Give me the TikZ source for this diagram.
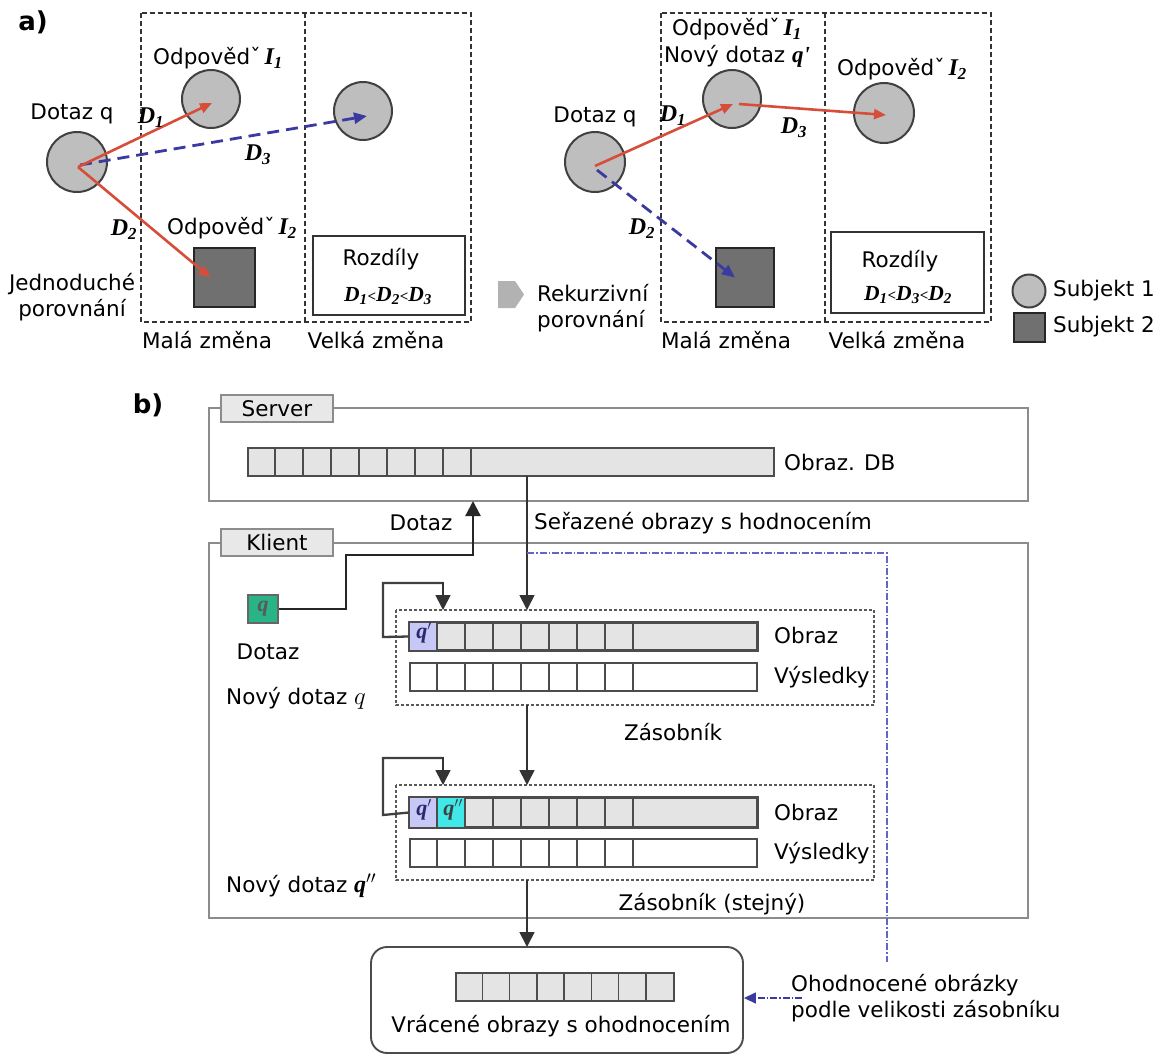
\documentclass[tikz,border=0pt]{standalone}
\usepackage{fontspec}
\setmainfont{DejaVu Sans}
\newfontfamily\tms{Liberation Serif}
\usetikzlibrary{arrows.meta,calc}

% bold italic serif for symbols
\newcommand\bi[1]{{\tms\bfseries\itshape #1}}
\newcommand\bigI[1]{{\tms\bfseries\itshape\fontsize{24}{24}\selectfont I\textsubscript{#1}}}
\newcommand\Dn[1]{\bi{D\textsubscript{#1}}}
\newcommand\lt{{\tms\bfseries\fontsize{15}{15}\selectfont<}}

\definecolor{subjA}{RGB}{190,190,190}
\definecolor{subjB}{RGB}{112,112,112}
\definecolor{redln}{RGB}{214,78,58}
\definecolor{blueln}{RGB}{58,58,160}
\definecolor{bluedd}{RGB}{100,100,205}
\definecolor{barfill}{RGB}{228,228,228}
\definecolor{qgreen}{RGB}{40,180,135}
\definecolor{qlav}{RGB}{200,200,246}
\definecolor{qcyan}{RGB}{64,232,232}

\tikzset{
  subjone/.style={circle, draw=black!75, fill=subjA, line width=2, minimum size=60, inner sep=0},
  subjtwo/.style={rectangle, draw=black!85, fill=subjB, line width=2, inner sep=0},
  zone/.style={draw=black!80, line width=2.2, dash pattern=on 5 off 3},
  redarr/.style={draw=redln, line width=2.6, -{Triangle[length=12,width=10]}},
  bluearr/.style={draw=blueln, line width=2.8, dash pattern=on 12 off 7, -{Triangle[length=13,width=11]}},
  dlab/.style={font=\fontsize{24}{26}\selectfont\tms\bfseries\itshape, inner sep=1},
  txt/.style={inner sep=0, align=center},
  frame/.style={draw=black!45, line width=1.7},
  tab/.style={draw=black!45, fill=black!9, line width=1.7, minimum width=112, minimum height=27, inner sep=0},
  bar/.style={draw=black!70, fill=barfill, line width=2, inner sep=0, minimum height=28},
  resbar/.style={draw=black!70, fill=white, line width=2, inner sep=0, minimum height=28},
  cellln/.style={draw=black!70, line width=1.5},
  stack/.style={draw=black!65, line width=2.1, dash pattern=on 3 off 2},
  flow/.style={draw=black!80, line width=1.7, -{Triangle[length=15,width=15]}},
  loopln/.style={draw=black!75, line width=2.3},
  dashdot/.style={draw=bluedd, line width=1.6, dash pattern=on 7 off 2 on 1.5 off 2},
}

\begin{document}
\begin{tikzpicture}[x=1pt, y=-1pt, font=\fontsize{21.5}{26}\selectfont]
\useasboundingbox (0,0) rectangle (1165,1055);
\fill[white] (0,0) rectangle (1165,1055);

% ===================== a) =====================
\node[txt, font=\fontsize{26}{26}\selectfont\bfseries] (alab) at (33,22) {a)};

% --- simple comparison ---
\draw[zone] (141,13) rectangle (471,322);
\draw[zone] (305,13) -- (305,322);

\node[subjone] (qa) at (77,162) {};
\node[subjone, minimum size=58] (ia) at (211,99) {};
\node[subjone, minimum size=58] (ja) at (363,111) {};
\node[subjtwo, minimum width=61, minimum height=59] (sa) at (224.5,277.5) {};
\node[draw=black!80, line width=2, minimum width=152, minimum height=79, inner sep=0] (ra) at (388.5,275.5) {};

\draw[bluearr] ([shift={(3,3)}]qa.center) -- ([shift={(4,5)}]ja.center);
\draw[redarr] ([shift={(1,5)}]qa.center) -- ([shift={(1,4)}]ia.center);
\draw[redarr] ([shift={(1,5)}]qa.center) -- ([shift={(-14,0)}]sa.center);

\node[dlab] (d1a) at (151,118) {D\textsubscript{1}};
\node[dlab] (d3a) at (258,155) {D\textsubscript{3}};
\node[dlab] (d2a) at (124,230) {D\textsubscript{2}};

\node[txt] (tqa) at (72,114) {Dotaz q};
\node[txt] (tia) at (218,58) {Odpovědˇ\,\bigI{1}};
\node[txt] (tsa) at (232,228) {Odpovědˇ\,\bigI{2}};
\node[txt] (tra) at (381,259) {Rozdíly};
\node[txt] (dra) at (388,296) {\Dn{1}\lt\Dn{2}\lt\Dn{3}};
\node[txt] (tja) at (72,297) {Jednoduché\\porovnání};
\node[txt] (tma) at (207,340) {Malá změna};
\node[txt] (tva) at (376,340) {Velká změna};

% --- recursive comparison ---
\fill[black!30] (498,281) -- (515,281) -- (524,294.5) -- (515,308) -- (498,308) -- cycle;
\node[txt, anchor=west, align=left] (tkb) at (537,308) {Rekurzivní\\porovnání};

\draw[zone] (661,13) rectangle (991,322);
\draw[zone] (825,13) -- (825,322);

\node[subjone] (qb) at (595,162) {};
\node[subjone, minimum size=58] (ib) at (732,99) {};
\node[subjone, minimum size=60] (jb) at (884,113) {};
\node[subjtwo, minimum width=58, minimum height=59] (sb) at (745,277.5) {};
\node[draw=black!80, line width=2, minimum width=153, minimum height=81, inner sep=0] (rb) at (907.5,272.5) {};

\draw[redarr] ([shift={(0,4)}]qb.center) -- ([shift={(1,5)}]ib.center);
\draw[redarr] ([shift={(7,5)}]ib.center) -- ([shift={(2,2)}]jb.center);
\draw[bluearr] ([shift={(2,8)}]qb.center) -- ([shift={(-10,0)}]sb.center);

\node[dlab] (d1b) at (673,116) {D\textsubscript{1}};
\node[dlab] (d3b) at (794,128) {D\textsubscript{3}};
\node[dlab] (d2b) at (642,229) {D\textsubscript{2}};

\node[txt] (tqb) at (595,117) {Dotaz q};
\node[txt] (tib) at (737,29) {Odpovědˇ\,\bigI{1}};
\node[txt] (tnb) at (737,56) {Nový dotaz \bi{\fontsize{23}{23}\selectfont q'}};
\node[txt] (tjb) at (902,69) {Odpovědˇ\,\bigI{2}};
\node[txt] (trb) at (900,261) {Rozdíly};
\node[txt] (drb) at (908,295) {\Dn{1}\lt\Dn{3}\lt\Dn{2}};
\node[txt] (tmb) at (726,340) {Malá změna};
\node[txt] (tvb) at (897,340) {Velká změna};

% --- legend ---
\node[subjone, minimum size=33] (lga) at (1029,291) {};
\node[subjtwo, minimum width=31, minimum height=29] (lgb) at (1029,327.5) {};
\node[txt, anchor=west] (lta) at (1053,291) {Subjekt 1};
\node[txt, anchor=west] (ltb) at (1053,327) {Subjekt 2};

% ===================== b) =====================
\node[txt, font=\fontsize{26}{26}\selectfont\bfseries] (blab) at (148,405) {b)};

% server and client frames
\draw[frame] (209,408) rectangle (1028,501);
\node[tab] (srv) at (277,408.5) {Server};
\draw[frame] (209,543) rectangle (1028,918);
\node[tab] (cli) at (277,542.5) {Klient};

% image database
\node[bar, minimum width=526] (db) at (511,462) {};
\foreach \k in {1,...,8}
  \draw[cellln] ($(db.north west)+(28*\k,0)$) -- ($(db.south west)+(28*\k,0)$);
\node[txt, anchor=west] (tdb) at (784,462) {Obraz. DB};

% query node
\node[draw=black!60, fill=qgreen, line width=1.5, minimum width=30, minimum height=28, inner sep=0,
      font=\fontsize{22}{22}\selectfont\tms\bfseries\itshape, text=black!65] (q) at (263,609) {q};
\node[txt] (tq) at (268,652) {Dotaz};
\coordinate (srvin) at (473,501);
\coordinate (dbout) at (527,476);
\coordinate (s1in) at (527,610);
\coordinate (s1out) at (527,705);
\coordinate (s2in) at (527,785);
\coordinate (s2out) at (527,880);
\coordinate (retin) at (527,947);
\draw[loopln, draw=black!85, -{Triangle[length=15,width=15]}] (q.east) -- (346,609) -- (346,555) -- (473,555) -- (srvin);
\node[txt] (tqd) at (421,523) {Dotaz};
\node[txt, anchor=west] (tsort) at (534,523) {Seřazené obrazy s hodnocením};

% first stack
\draw[stack] (396,610) rectangle (874,705);
\node[bar, minimum width=347, minimum height=27] (ob1) at (583.5,636.5) {};
\fill[qlav] (ob1.north west) rectangle ($(ob1.south west)+(28,0)$);
\draw[black!70, line width=2] (ob1.north west) rectangle (ob1.south east);
\node[resbar, minimum width=347] (vy1) at (583.5,677) {};
\foreach \k in {1,...,8}{
  \draw[cellln] ($(ob1.north west)+(28*\k,0)$) -- ($(ob1.south west)+(28*\k,0)$);
  \draw[cellln] ($(vy1.north west)+(28*\k,0)$) -- ($(vy1.south west)+(28*\k,0)$);
}
\node[font=\fontsize{22}{22}\selectfont\tms\bfseries\itshape, text=blueln!70!black, inner sep=0] (c1) at (424,633) {q$'$};
\node[txt, anchor=west] (to1) at (774,635) {Obraz};
\node[txt, anchor=west] (tv1) at (774,677) {Výsledky};
\node[txt] (tz1) at (673,732) {Zásobník};
\node[txt, anchor=west] (tn1) at (226,698) {Nový dotaz \fontsize{25}{25}\selectfont$q$};

\draw[flow] (dbout) -- (s1in);
\draw[loopln] (ob1.west) -- (383,637) -- (383,583) -- (443,583);
\draw[flow] (443,582) -- (443,610);

% second stack
\draw[stack] (396,785) rectangle (874,880);
\node[bar, minimum width=347, minimum height=29] (ob2) at (583.5,812.5) {};
\fill[qlav] (ob2.north west) rectangle ($(ob2.south west)+(28,0)$);
\fill[qcyan] ($(ob2.north west)+(28,0)$) rectangle ($(ob2.south west)+(56,0)$);
\draw[black!70, line width=2] (ob2.north west) rectangle (ob2.south east);
\node[resbar, minimum width=347] (vy2) at (583.5,853) {};
\foreach \k in {1,...,8}{
  \draw[cellln] ($(ob2.north west)+(28*\k,0)$) -- ($(ob2.south west)+(28*\k,0)$);
  \draw[cellln] ($(vy2.north west)+(28*\k,0)$) -- ($(vy2.south west)+(28*\k,0)$);
}
\node[font=\fontsize{22}{22}\selectfont\tms\bfseries\itshape, text=blueln!70!black, inner sep=0] (c2) at (424,810) {q$'$};
\node[font=\fontsize{22}{22}\selectfont\tms\bfseries\itshape, text=black!75, inner sep=0] (c3) at (453,810) {q$''$};
\node[txt, anchor=west] (to2) at (774,812) {Obraz};
\node[txt, anchor=west] (tv2) at (774,853) {Výsledky};
\node[txt] (tz2) at (712,904) {Zásobník (stejný)};
\node[txt, anchor=west] (tn2) at (226,886) {Nový dotaz \bi{\fontsize{24}{24}\selectfont q$''$}};

\draw[flow] (s1out) -- (s2in);
\draw[loopln] (ob2.west) -- (383,815) -- (383,758) -- (443,758);
\draw[flow] (443,757) -- (443,785);

% returned results
\node[draw=black!70, line width=1.9, rounded corners=16, minimum width=372, minimum height=106, inner sep=0] (ret) at (557,1000) {};
\node[bar, minimum width=218] (rb8) at (565,987) {};
\foreach \k in {1,...,7}
  \draw[cellln] ($(rb8.north west)+(27.25*\k,0)$) -- ($(rb8.south west)+(27.25*\k,0)$);
\node[txt] (tret) at (561,1026) {Vrácené obrazy s ohodnocením};
\draw[flow] (s2out) -- (retin);

% ranked output by stack size
\draw[dashdot] (527,553) -- (887,553) -- (887,962);
\coordinate (rk) at (802,998);
\draw[dashdot, draw=blueln, -{Triangle[length=12,width=11]}] (rk) -- (ret.east |- rk);
\node[txt, anchor=west, align=left] (trk) at (791,998.5) {Ohodnocené obrázky\\podle velikosti zásobníku};
\end{tikzpicture}
\end{document}
